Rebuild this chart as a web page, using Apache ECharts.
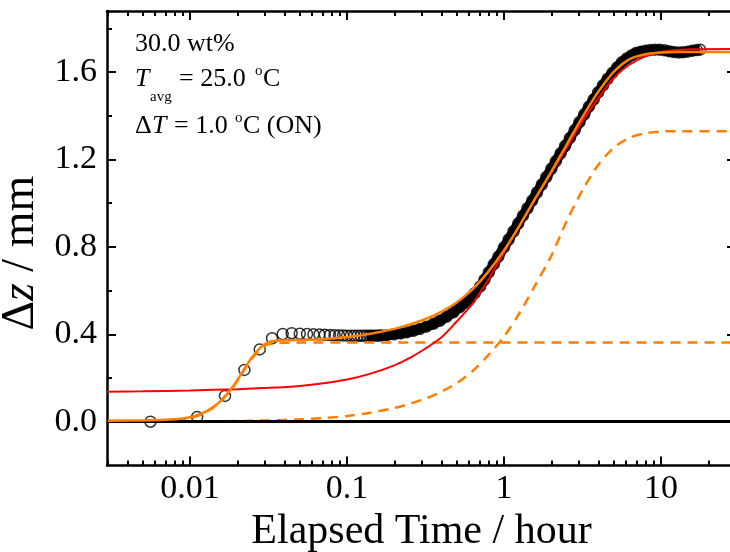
<!DOCTYPE html>
<html><head><meta charset="utf-8">
<script src="https://cdn.jsdelivr.net/npm/echarts@6/dist/echarts.min.js"></script>
<style>html,body{margin:0;padding:0;background:#fff}#c{width:730px;height:552px}</style>
</head><body><div id="c"></div>
<script>
// ---- measured data (hours, mm) ----
const dataTime = [0.0056,0.0111,0.0167,0.0222,0.0278,0.0333,0.0389,0.0444,0.0500,0.0556,0.0611,0.0667,0.0722,0.0778,0.0833,0.0889,0.0944,0.1000,0.1056,0.1111,0.1167,0.1222,0.1278,0.1333,0.1389,0.1444,0.1500,0.1556,0.1611,0.1667,
0.18,0.20,0.22,0.24,0.265,0.29,0.32,0.355,0.39,0.43,0.476,0.52,0.56,0.608,0.65,0.703,0.75,0.80,0.86,0.92,1.0,1.07,1.15,1.23,1.32,1.41,1.51,1.62,1.74,1.86,2.0,2.14,2.29,2.45,2.63,2.82,3.02,3.24,3.47,3.72,3.98,4.27,4.57,4.9,5.25,5.62,6.03,6.46,6.92,7.41,7.94,8.51,9.12,9.77,10.5,11.2,12.0,12.9,13.8,14.8,15.8,16.9,17.7];
const dataDz = [0.000,0.022,0.118,0.237,0.331,0.382,0.401,0.405,0.403,0.401,0.400,0.399,0.398,0.397,0.396,0.395,0.395,0.394,0.394,0.393,0.393,0.393,0.393,0.393,0.393,0.394,0.394,0.394,0.395,0.395,
0.396,0.400,0.404,0.409,0.416,0.424,0.435,0.448,0.462,0.480,0.501,0.524,0.543,0.565,0.588,0.618,0.650,0.684,0.721,0.756,0.799,0.834,0.872,0.907,0.943,0.977,1.012,1.049,1.086,1.120,1.158,1.193,1.228,1.262,1.299,1.335,1.371,1.407,1.442,1.475,1.508,1.540,1.570,1.597,1.622,1.645,1.662,1.676,1.688,1.694,1.698,1.701,1.703,1.703,1.700,1.696,1.692,1.690,1.691,1.694,1.698,1.701,1.703];

// two-step fit (total)
const fitTotalTime = [0.003,0.005,0.007,0.009,0.0105,0.0125,0.0141,0.0155,0.0167,0.0178,0.0188,0.0199,0.0209,0.022,0.0231,0.0245,0.0261,0.0278,0.0294,0.0315,0.034,0.038,0.045,0.0501,0.0708,0.1,0.141,0.2,0.251,0.316,0.398,0.501,0.631,0.794,1.0,1.26,1.58,2.0,2.51,3.16,3.98,5.01,6.31,7.94,10.0,12.6,30];
const fitTotalDz = [0.004,0.006,0.009,0.015,0.024,0.045,0.068,0.092,0.117,0.140,0.162,0.188,0.212,0.238,0.262,0.289,0.314,0.336,0.352,0.363,0.369,0.372,0.373,0.374,0.379,0.388,0.403,0.425,0.445,0.470,0.503,0.547,0.607,0.687,0.785,0.900,1.022,1.145,1.270,1.395,1.510,1.603,1.660,1.682,1.690,1.692,1.692];

// single-step fit
const fitSingleTime = [0.00296,0.005,0.01,0.02,0.0316,0.0501,0.0708,0.1,0.141,0.2,0.251,0.316,0.398,0.501,0.631,0.708,0.794,1.0,1.26,1.58,2.0,2.51,3.16,3.98,5.01,6.31,7.94,10.0,12.6,15.8,30];
const fitSingleDz = [0.137,0.139,0.143,0.149,0.155,0.164,0.176,0.193,0.220,0.258,0.292,0.335,0.385,0.460,0.540,0.595,0.650,0.775,0.900,1.020,1.140,1.255,1.375,1.480,1.575,1.635,1.672,1.692,1.701,1.705,1.706];

// component 1 (fast step)
const comp1Time = [0.003,0.006,0.008,0.0105,0.0125,0.0141,0.0155,0.0167,0.0178,0.0188,0.0199,0.0209,0.022,0.0231,0.0245,0.0261,0.0278,0.0294,0.0315,0.034,0.04,0.05,30];
const comp1Dz = [0.002,0.003,0.006,0.020,0.042,0.065,0.090,0.114,0.137,0.158,0.184,0.208,0.234,0.257,0.284,0.308,0.329,0.344,0.354,0.359,0.361,0.362,0.362];

// component 2 (slow step)
const comp2Time = [0.00296,0.01,0.02,0.0316,0.0501,0.0708,0.1,0.141,0.2,0.251,0.316,0.398,0.501,0.631,0.794,1.0,1.26,1.58,2.0,2.51,3.16,3.98,5.01,6.31,7.94,10.0,12.6,30];
const comp2Dz = [0.000,0.001,0.003,0.006,0.011,0.017,0.026,0.041,0.063,0.082,0.106,0.137,0.177,0.232,0.305,0.390,0.500,0.625,0.760,0.920,1.060,1.175,1.255,1.300,1.320,1.328,1.330,1.330];

// axis ticks
const xMajor = [0.01,0.1,1,10];
const xMinor = [0.003,0.004,0.005,0.006,0.007,0.008,0.009,0.02,0.03,0.04,0.05,0.06,0.07,0.08,0.09,0.2,0.3,0.4,0.5,0.6,0.7,0.8,0.9,2,3,4,5,6,7,8,9,20,30];
const yMajor = [0.0,0.4,0.8,1.2,1.6];
const yMinor = [0.2,0.6,1.0,1.4,1.8];
const X_MIN = 0.00296, X_MAX = 30, Y_MIN = -0.2, Y_MAX = 1.88;
const BAND_START = 0.13;

const FONT = 'Liberation Serif';
const zip = (a,b) => a.map((v,i)=>[v,b[i]]);
const bandData = zip(dataTime,dataDz).filter(p=>p[0]>=BAND_START);
const L10 = Math.log10;

const xMain = {type:'log', logBase:10, min:X_MIN, max:X_MAX, position:'bottom', gridIndex:0,
  axisLine:{show:true, onZero:false, lineStyle:{color:'#000',width:2.5}},
  axisTick:{show:false}, minorTick:{show:false}, splitLine:{show:false},
  axisLabel:{show:true, customValues:xMajor, formatter:v=>String(v), color:'#000', fontFamily:FONT, fontSize:34, margin:7},
  name:'Elapsed Time / hour', nameLocation:'middle', nameGap:33,
  nameTextStyle:{color:'#000', fontFamily:FONT, fontSize:42}};
// tick-only axes in log10 space of the same range
function xTick(pos, ticks, len, showLine){
  return {type:'value', min:L10(X_MIN), max:L10(X_MAX), position:pos, gridIndex:0,
    axisLine:{show:showLine, onZero:false, lineStyle:{color:'#000',width:2.5}},
    axisTick:{show:true, inside:true, length:len, customValues:ticks.map(L10), lineStyle:{color:'#000',width:2}},
    axisLabel:{show:false}, splitLine:{show:false}};
}
function yAx(pos, ticks, len, withLabel, showLine){
  return {type:'value', min:Y_MIN, max:Y_MAX, position:pos, gridIndex:0,
    axisLine:{show:showLine, onZero:false, lineStyle:{color:'#000',width:2.5}},
    axisTick:{show:true, inside:true, length:len, customValues:ticks, lineStyle:{color:'#000',width:2}},
    axisLabel:withLabel?{show:true, customValues:yMajor, formatter:v=>v.toFixed(1), color:'#000', fontFamily:FONT, fontSize:34, margin:10}:{show:false},
    splitLine:{show:false},
    name: withLabel?'{a|Δ}{i|z}{a| / mm}':'', nameLocation:'middle', nameGap:50, nameRotate:90,
    nameTextStyle:{color:'#000', fontFamily:FONT, fontSize:46, padding:[0,30,0,0],
      rich:{a:{fontFamily:FONT,fontSize:46,color:'#000'}, i:{fontFamily:FONT,fontSize:46,fontStyle:'italic',color:'#000'}}}};
}

const chart = echarts.init(document.getElementById('c'), null, {renderer:'canvas'});
const T = (text, x, y, size, italic) => ({type:'text', silent:true, z:100, style:{text, x, y, fill:'#000', font:(italic?'italic ':'')+size+'px "'+FONT+'"', verticalAlign:'middle', align:'left'}});

chart.setOption({
  animation:false,
  backgroundColor:'#fff',
  grid:{left:107, right:-6, top:11, bottom:86.6, containLabel:false, outerBoundsMode:'none'},
  xAxis:[xMain, xTick('bottom',xMajor,9,false), xTick('bottom',xMinor,5,false), xTick('top',xMajor,9,true), xTick('top',xMinor,5,false)],
  yAxis:[yAx('left',yMajor,9,true,true), yAx('left',yMinor,5,false,false), yAx('right',yMajor,9,false,true), yAx('right',yMinor,5,false,false)],
  series:[
    {type:'line', name:'band', data:bandData, showSymbol:false, smooth:0.3, silent:true, z:2,
     lineStyle:{color:'#000', width:10},
     markLine:{silent:true, symbol:'none', label:{show:false}, lineStyle:{color:'#000', width:3, type:'solid'}, data:[{yAxis:0}]}},
    {type:'scatter', name:'data', data:zip(dataTime,dataDz), symbol:'circle', symbolSize:11, silent:true, z:3,
     itemStyle:{color:'rgba(0,0,0,0)', borderColor:'#000', borderWidth:1.5}},
    {type:'line', name:'comp2', data:zip(comp2Time,comp2Dz), showSymbol:false, smooth:0.3, silent:true, z:4,
     lineStyle:{color:'#FF8000', width:2.5, type:[10,7]}},
    {type:'line', name:'comp1', data:zip(comp1Time,comp1Dz), showSymbol:false, smooth:0.3, silent:true, z:4,
     lineStyle:{color:'#FF8000', width:2.5, type:[10,7]}},
    {type:'line', name:'single', data:zip(fitSingleTime,fitSingleDz), showSymbol:false, smooth:0.3, silent:true, z:5,
     lineStyle:{color:'#FF0000', width:2}},
    {type:'line', name:'total', data:zip(fitTotalTime,fitTotalDz), showSymbol:false, smooth:0.3, silent:true, z:6,
     lineStyle:{color:'#FF8000', width:2.5}}
  ],
  graphic:[
    T('30.0 wt%',135,44,26,false),
    T('T',135,79,26,true),
    T('avg',150,97,15,false),
    T('= 25.0',179,79,26,false),
    T('o',255,71,15,false),
    T('C',263,79,26,false),
    T('Δ',135,126,26,false),
    T('T',152,126,26,true),
    T('= 1.0',174,126,26,false),
    T('o',235,118,15,false),
    T('C (ON)',243,126,26,false)
  ]
});
</script>
</body></html>
